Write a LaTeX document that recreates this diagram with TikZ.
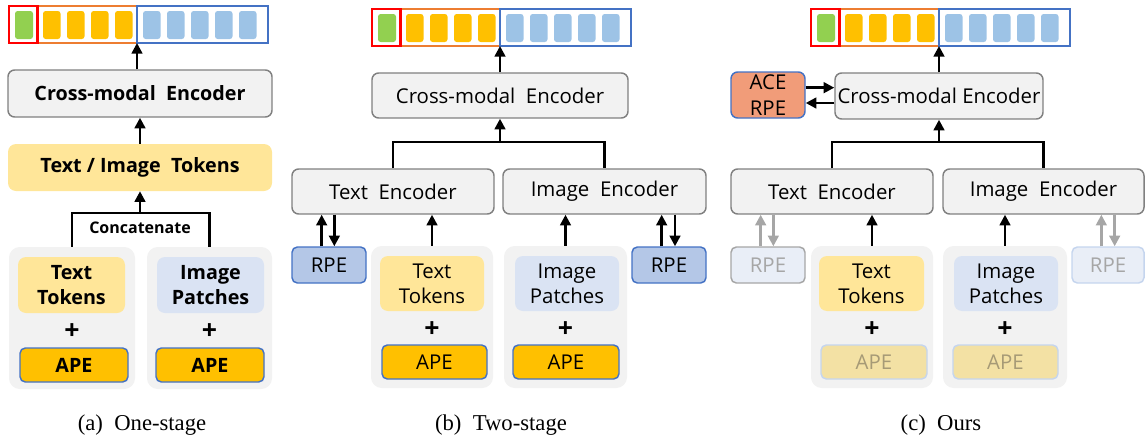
\documentclass[tikz,border=0pt]{standalone}
\usepackage{fontspec}
\setmainfont{Liberation Serif}
\newfontfamily\boxfont{Open Sans}
\usetikzlibrary{arrows.meta}

\definecolor{encgray}{HTML}{F2F2F2}
\definecolor{encline}{HTML}{808080}
\definecolor{tokyellow}{HTML}{FFE699}
\definecolor{patblue}{HTML}{DAE3F3}
\definecolor{apeorange}{HTML}{FFC000}
\definecolor{rpeblue}{HTML}{B4C7E7}
\definecolor{lineblue}{HTML}{4472C4}
\definecolor{clsgreen}{HTML}{92D050}
\definecolor{cellblue}{HTML}{9DC3E6}
\definecolor{barred}{HTML}{FF0000}
\definecolor{barorange}{HTML}{ED7D31}
\definecolor{acesalmon}{HTML}{F19C79}
\definecolor{fadefill}{HTML}{E9EEF7}
\definecolor{fadetext}{HTML}{A6A6A6}
\definecolor{fadeline}{HTML}{C5D5EE}
\definecolor{fadeape}{HTML}{F3E1A4}
\definecolor{fadeapetext}{HTML}{A69A76}

\tikzset{
  enc/.style={draw=encline, fill=encgray, line width=1.1pt, rounded corners=5pt},
  panel/.style={fill=encgray, rounded corners=8pt},
  tok/.style={fill=tokyellow, rounded corners=6pt, align=center},
  pat/.style={fill=patblue, rounded corners=6pt, align=center},
  ape/.style={fill=apeorange, draw=lineblue, line width=1.1pt, rounded corners=4pt},
  rpe/.style={fill=rpeblue, draw=lineblue, line width=1.1pt, rounded corners=4pt},
  ace/.style={fill=acesalmon, draw=lineblue, line width=1.1pt, rounded corners=5pt, align=center},
  rpefade/.style={fill=fadefill, draw=fadetext, line width=1.1pt, rounded corners=4pt, text=fadetext},
  rpefadeb/.style={fill=fadefill, draw=fadeline, line width=1.1pt, rounded corners=4pt, text=fadetext},
  apefade/.style={fill=fadeape, draw=fadeline, line width=1.1pt, rounded corners=4pt, text=fadeapetext},
  plus/.style={inner sep=0pt, font=\boxfont\bfseries\fontsize{20}{20}\selectfont},
  arr/.style={line width=1.9pt, -{Triangle[length=8pt,width=8pt]}},
  fadearr/.style={arr, draw=fadetext},
  bus/.style={line width=1.9pt},
  catlbl/.style={font=\boxfont\bfseries\fontsize{12}{14}\selectfont},
  caption/.style={font=\fontsize{17}{20}\selectfont}
}

% box by its corners, in pixels of the reference
\newcommand{\pbox}[7][]{%
  \node[#1, inner sep=0pt, minimum width={(#5-#3)*0.75pt}, minimum height={(#6-#4)*0.75pt}]
    (#2) at ({(#3+#5)/2},{(#4+#6)/2}) {#7};}

% token bar: name, left, top
\newcommand{\tokbar}[3]{%
  \fill[clsgreen, rounded corners=2pt] (#2+6,#3+5) rectangle ++(18,28);
  \foreach \i in {0,...,3}
    \fill[apeorange, rounded corners=2pt] ({#2+34+24*\i},#3+5) rectangle ++(17.5,28);
  \foreach \i in {0,...,4}
    \fill[cellblue, rounded corners=2pt] ({#2+134+24*\i},#3+5) rectangle ++(17.5,28);
  \draw[barorange, line width=1.7pt] (#2+28.5,#3) rectangle (#2+128,#3+37);
  \draw[lineblue, line width=1.7pt] (#2+128,#3) rectangle (#2+259,#3+37);
  \draw[barred, line width=1.7pt] (#2,#3) rectangle (#2+28.5,#3+37);
  \coordinate (#1) at (#2+128,#3+37);}

\begin{document}
\begin{tikzpicture}[x=0.75pt, y=-0.75pt, font=\boxfont\fontsize{15.3}{19}\selectfont]
\useasboundingbox (0,0) rectangle (1145,439);

% (a) one-stage
\begin{scope}[font=\boxfont\bfseries\fontsize{14.8}{19}\selectfont]
  \pbox[enc]{cmeA}{8}{70}{272}{117}{Cross-modal~ Encoder}
  \pbox[tok]{tokA}{8}{144}{272}{191}{Text / Image~ Tokens}
  \pbox[panel]{tpA}{9}{247}{135}{389}{}
  \pbox[panel]{ipA}{147}{247}{272}{389}{}
  \pbox[tok]{ttA}{18}{257}{125}{313}{Text\\Tokens}
  \pbox[pat]{ipaA}{157}{257}{264}{313}{Image\\Patches}
  \node[plus] (plA1) at (72,332) {+};
  \node[plus] (plA2) at (209.5,332) {+};
  \pbox[ape]{apeA1}{20}{348}{128}{382}{APE}
  \pbox[ape]{apeA2}{156}{348}{264}{382}{APE}
  \coordinate (catA) at (140,213);
  \draw[bus] (tpA.north) |- (catA) -| (ipA.north);
  \draw[arr] (catA) -- (tokA.south);
  \node[catlbl] (catlblA) at (140,228) {Concatenate};
  \draw[arr] (tokA.north) -- (cmeA.south);
  \tokbar{barA}{9}{6}
  \draw[arr] (barA |- cmeA.north) -- (barA);
\end{scope}
\node[caption] (capA) at (142,425) {(a)~ One-stage};

% (b) two-stage
\pbox[enc]{cmeB}{372}{73}{628}{118}{Cross-modal~ Encoder}
\pbox[enc]{teB}{292}{169}{494}{214}{Text~ Encoder}
\pbox[enc]{ieB}{503}{169}{706}{214}{Image~ Encoder}
\pbox[rpe]{rpeB1}{292}{247}{366}{283}{RPE}
\pbox[rpe]{rpeB2}{632}{247}{706}{283}{RPE}
\pbox[panel]{tpB}{371}{246}{493}{388}{}
\pbox[panel]{ipB}{504}{246}{627}{388}{}
\pbox[tok]{ttB}{380}{256}{484}{311}{Text\\Tokens}
\pbox[pat]{ipaB}{515}{256}{619}{311}{Image\\Patches}
\node[plus] (plB1) at (432,330) {+};
\node[plus] (plB2) at (565.5,330) {+};
\pbox[ape]{apeB1}{382}{345}{487}{379}{APE}
\pbox[ape]{apeB2}{513}{345}{619}{379}{APE}
\coordinate (busB) at (500,142);
\draw[bus] (teB.north) |- (busB) -| (ieB.north);
\draw[arr] (busB) -- (cmeB.south);
\draw[arr] (tpB.north) -- (tpB.north |- teB.south);
\draw[arr] (ipB.north) -- (ipB.north |- ieB.south);
\draw[arr] ([xshift=-5.5pt]rpeB1.north) -- ([xshift=-5.5pt]rpeB1.north |- teB.south);
\draw[arr] ([xshift=4pt]rpeB1.north |- teB.south) -- ([xshift=4pt]rpeB1.north);
\draw[arr] ([xshift=-5.5pt]rpeB2.north) -- ([xshift=-5.5pt]rpeB2.north |- ieB.south);
\draw[arr] ([xshift=4.5pt]rpeB2.north |- ieB.south) -- ([xshift=4.5pt]rpeB2.north);
\tokbar{barB}{372}{9}
\draw[arr] (barB |- cmeB.north) -- (barB);
\node[caption] (capB) at (501,425) {(b)~ Two-stage};

% (c) ours
\pbox[enc]{cmeC}{835}{73}{1043}{119}{Cross-modal Encoder}
\pbox[ace]{aceC}{731}{72}{805}{118}{ACE\\RPE}
\draw[arr] ([yshift=5.5pt]aceC.east) -- ([yshift=5.5pt]aceC.east -| cmeC.west);
\draw[arr] ([yshift=-6pt]aceC.east -| cmeC.west) -- ([yshift=-6pt]aceC.east);
\pbox[enc]{teC}{731}{169}{933}{214}{Text~ Encoder}
\pbox[enc]{ieC}{943}{169}{1144}{214}{Image~ Encoder}
\pbox[rpefade]{rpeC1}{731}{247}{805}{283}{RPE}
\pbox[rpefadeb]{rpeC2}{1072}{247}{1144}{283}{RPE}
\pbox[panel]{tpC}{811}{246}{933}{388}{}
\pbox[panel]{ipC}{943}{246}{1067}{388}{}
\pbox[tok]{ttC}{819}{256}{924}{311}{Text\\Tokens}
\pbox[pat]{ipaC}{954}{256}{1058}{311}{Image\\Patches}
\node[plus] (plC1) at (872,330) {+};
\node[plus] (plC2) at (1005,330) {+};
\pbox[apefade]{apeC1}{821}{345}{927}{379}{APE}
\pbox[apefade]{apeC2}{953}{345}{1058}{379}{APE}
\coordinate (busC) at (939,142);
\draw[bus] (teC.north) |- (busC) -| (ieC.north);
\draw[arr] (busC) -- (cmeC.south);
\draw[arr] (tpC.north) -- (tpC.north |- teC.south);
\draw[arr] (ipC.north) -- (ipC.north |- ieC.south);
\draw[fadearr] ([xshift=-5.5pt]rpeC1.north) -- ([xshift=-5.5pt]rpeC1.north |- teC.south);
\draw[fadearr] ([xshift=4pt]rpeC1.north |- teC.south) -- ([xshift=4pt]rpeC1.north);
\draw[fadearr] ([xshift=-5pt]rpeC2.north) -- ([xshift=-5pt]rpeC2.north |- ieC.south);
\draw[fadearr] ([xshift=5pt]rpeC2.north |- ieC.south) -- ([xshift=5pt]rpeC2.north);
\tokbar{barC}{811}{9}
\draw[arr] (barC |- cmeC.north) -- (barC);
\node[caption] (capC) at (941,425) {(c)~ Ours};
\end{tikzpicture}
\end{document}
